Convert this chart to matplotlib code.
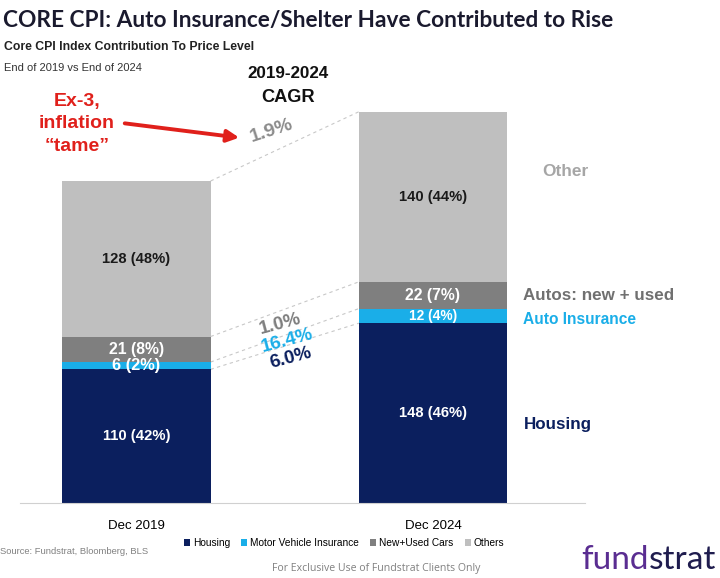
import matplotlib
matplotlib.use('Agg')
from matplotlib import pyplot as plt
from matplotlib.patches import FancyArrowPatch
import numpy as np

# values (index points)
periods = ['Dec 2019', 'Dec 2024']
housing = [110, 148]
insurance = [6, 12]
cars = [21, 22]
others = [128, 140]
shares = {
    'housing': ['42%', '46%'],
    'insurance': ['2%', '4%'],
    'cars': ['8%', '7%'],
    'others': ['48%', '44%'],
}
cagr = ['6.0%', '16.4%', '1.0%', '1.9%']
legend_names = ['Housing', 'Motor Vehicle Insurance', 'New+Used Cars', 'Others']

NAVY = '#0b1f5e'
BLUE = '#1aaee8'
GREY = '#7f7f7f'
LIGHT = '#bfbfbf'

plt.rcParams['font.family'] = ['Liberation Sans', 'DejaVu Sans']

W, H = 720, 578
fig = plt.figure(figsize=(W / 100, H / 100), dpi=100)
r = fig.canvas.get_renderer()


def px(x, y):
    return x / W, 1 - y / H


def fit(t, width):
    # scale font so the text is about as wide as in the reference
    w = t.get_window_extent(r).width
    t.set_fontsize(t.get_fontsize() * width / w)
    return t


ax = fig.add_axes([20 / W, 1 - 503 / H, 565 / W, (503 - 59.5) / H])
x = np.arange(len(periods))
width = 0.5
series = [housing, insurance, cars, others]
colors = [NAVY, BLUE, GREY, LIGHT]
keys = ['housing', 'insurance', 'cars', 'others']
bottom = np.zeros(2)
tops = []
for vals, col, key, name in zip(series, colors, keys, legend_names):
    vals = np.array(vals, dtype=float)
    ax.bar(x, vals, width, bottom=bottom, color=col, label=name)
    txtcol = '#1a1a1a' if key == 'others' else 'white'
    for i in range(2):
        t = ax.text(x[i], bottom[i] + vals[i] / 2, f'{int(vals[i])} ({shares[key][i]})',
                    ha='center', va='center', color=txtcol, fontsize=11, fontweight='bold')
        if key in ('housing', 'others'):
            fit(t, 68)
        else:
            fit(t, 55 if key == 'cars' else 48)
    bottom = bottom + vals
    tops.append(bottom.copy())

# dashed connectors between segment tops
for tp in tops:
    ax.plot([x[0] + width / 2, x[1] - width / 2], [tp[0], tp[1]],
            ls=(0, (3, 3)), color='#c8c8c8', lw=0.8, zorder=0)

ax.set_xlim(-0.393, 1.513)
ax.set_ylim(0, 365)
ax.set_xticks(x)
ax.set_xticklabels(periods, fontsize=9.5)
ax.tick_params(axis='x', length=0, pad=12)
ax.set_yticks([])
for s in ['top', 'left', 'right']:
    ax.spines[s].set_visible(False)
ax.spines['bottom'].set_color('#d0d0d0')

# CAGR labels
fig.text(*px(280, 324), cagr[2], color=GREY, fontsize=13.5, fontweight='bold',
         ha='center', va='center', rotation=15)
fig.text(*px(287, 341), cagr[1], color=BLUE, fontsize=13.5, fontweight='bold',
         ha='center', va='center', rotation=15)
fig.text(*px(291, 358), cagr[0], color=NAVY, fontsize=13.5, fontweight='bold',
         ha='center', va='center', rotation=15)
fig.text(*px(272, 131), cagr[3], color='#8c8c8c', fontsize=14, fontweight='bold',
         ha='center', va='center', rotation=18)

# right side labels
fit(fig.text(*px(542, 172), 'Other', color='#a6a6a6', fontsize=14, fontweight='bold', va='center'), 46)
fit(fig.text(*px(523, 295), 'Autos: new + used', color='#707070', fontsize=14, fontweight='bold',
             va='center'), 151)
fit(fig.text(*px(523, 320), 'Auto Insurance', color=BLUE, fontsize=13, fontweight='bold',
             va='center'), 113)
fit(fig.text(*px(524, 425), 'Housing', color=NAVY, fontsize=15, fontweight='bold', va='center'), 68)

# titles
fit(fig.text(*px(3, 20), 'CORE CPI: Auto Insurance/Shelter Have Contributed to Rise',
             fontsize=18, fontweight='bold', color='#1a1a2e', va='center',
             family=['Lato', 'DejaVu Sans']), 612)
fit(fig.text(*px(4, 47), 'Core CPI Index Contribution To Price Level',
             fontsize=10, fontweight='bold', color='#222222', va='center'), 250)
fit(fig.text(*px(4, 68), 'End of 2019 vs End of 2024', fontsize=8.5, color='#333333',
             va='center'), 137)
fit(fig.text(*px(288, 73), '2019-2024', fontsize=15, fontweight='bold', color='#111111',
             ha='center', va='center'), 82)
fit(fig.text(*px(288, 97), 'CAGR', fontsize=15, fontweight='bold', color='#111111',
             ha='center', va='center'), 54)

# red callout
fig.text(*px(77, 124), 'Ex-3,\ninflation\n\u201ctame\u201d', fontsize=14, fontweight='bold',
         color='#e0201b', ha='center', va='center', linespacing=1.45)
fig.add_artist(FancyArrowPatch(px(122, 123), px(242, 138), transform=fig.transFigure,
                               arrowstyle='-|>', mutation_scale=18, color='#e0201b', lw=2.8))

# legend
leg = fig.legend(*ax.get_legend_handles_labels(), loc='center', bbox_to_anchor=px(344, 543),
                 ncol=4, frameon=False, fontsize=7.3, handlelength=0.6, handleheight=0.6,
                 columnspacing=1.1, handletextpad=0.3)

fit(fig.text(*px(0, 551), 'Source: Fundstrat, Bloomberg, BLS', fontsize=7.5, color='#808080',
             va='center'), 147)
fit(fig.text(*px(376, 569), 'For Exclusive Use of Fundstrat Clients Only', fontsize=8.5,
             color='#808080', ha='center', va='center', family=['Open Sans', 'DejaVu Sans']), 206)

# logo
t1 = fig.text(*px(581, 560), 'fund', fontsize=24, color='#5a2d91', va='center',
              family=['Lato', 'DejaVu Sans'])
bb = t1.get_window_extent(r)
fig.text(bb.x1 / fig.bbox.width, 1 - 560 / H, 'strat', fontsize=24, color='#1f1c4e', va='center',
         family=['Lato', 'DejaVu Sans'])

fig.savefig('out.png', dpi=100)
